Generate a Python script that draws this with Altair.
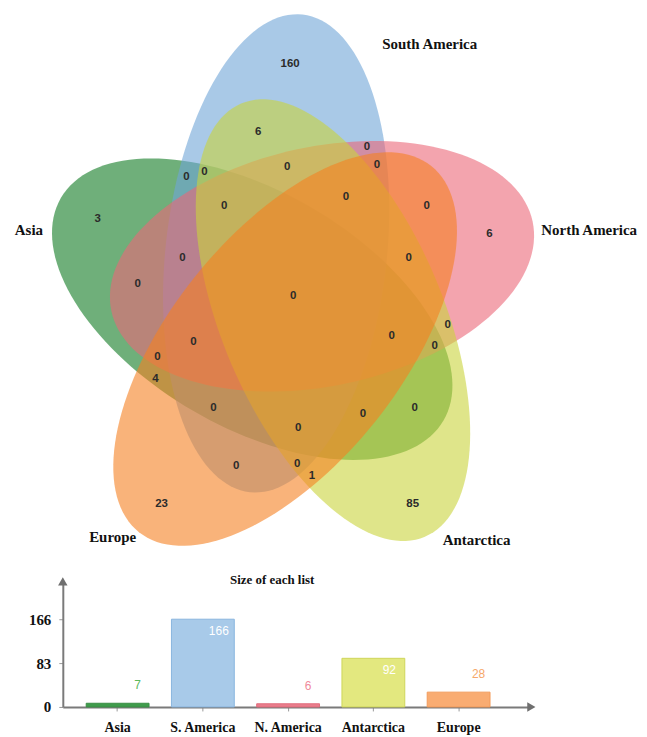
import numpy as np
import pandas as pd
import altair as alt

# ---------------- data ----------------
set_names = ["Asia", "South America", "North America", "Antarctica", "Europe"]
short_names = ["Asia", "S. America", "N. America", "Antarctica", "Europe"]
list_sizes = [7, 166, 6, 92, 28]

# counts of the 31 Venn regions
region_counts = [160, 6, 0, 0, 0, 0, 0, 0, 0, 0, 6, 3, 0, 0, 0, 0,
                 0, 0, 0, 0, 0, 4, 0, 0, 0, 0, 0, 0, 1, 23, 85]

# ---------------- layout (pixels, y down) ----------------
LEFT = 62              # x of the bar chart's y axis (plot areas are aligned there)
VW, VH = 647, 565
region_x = [290, 258, 186, 204, 287, 367, 377, 346, 224, 427, 490, 97, 182, 137, 409, 293,
            392, 448, 435, 193, 157, 155, 213, 298, 363, 415, 236, 297, 312, 161, 413]
region_y = [62, 130, 175, 170, 165, 145, 163, 195, 205, 205, 233, 218, 257, 283, 257, 295,
            335, 324, 345, 341, 356, 378, 407, 427, 413, 407, 465, 463, 475, 503, 503]

# ellipse geometry: centre, semi-axes, direction of the major axis (degrees, clockwise)
ell_center = {"Asia": (252, 308), "South America": (276, 252), "North America": (322, 265),
              "Antarctica": (333, 319), "Europe": (285, 348)}
ell_a = {"Asia": 222, "South America": 241, "North America": 216,
         "Antarctica": 236, "Europe": 235}
ell_b = {"Asia": 118, "South America": 111, "North America": 120,
         "Antarctica": 111, "Europe": 116}
ell_angle = {"Asia": 210.2, "South America": 276.3, "North America": 348.0,
             "Antarctica": 67.0, "Europe": 128.6}

set_fill = {"Asia": "#0f7a22", "South America": "#70a5d7", "North America": "#eb6778",
            "Antarctica": "#cad43c", "Europe": "#f58021"}
draw_order = ["Asia", "South America", "North America", "Antarctica", "Europe"]

set_label_x = [28, 430, 590, 477, 112]
set_label_y = [229, 42, 229, 540, 537]

bar_fill = ["#3f9c4c", "#a8cae9", "#ea7d8c", "#e3e87f", "#f9ac72"]
bar_stroke = ["#3a8f46", "#8ab6df", "#e06c7c", "#cfd65a", "#f29b5a"]
out_label_color = ["#5cb85c", "#ffffff", "#f08a9a", "#ffffff", "#f6a86a"]

# ---------------- Venn panel ----------------
X = alt.X("x:Q", scale=alt.Scale(domain=[LEFT, VW], nice=False, zero=False), axis=None)
Y = alt.Y("y:Q", scale=alt.Scale(domain=[0, VH], nice=False, zero=False, reverse=True), axis=None)


def ellipse_path(ratio, n=144):
    t = np.linspace(0, 2 * np.pi, n, endpoint=False)
    px = np.cos(t)
    py = ratio * np.sin(t)
    pts = " L ".join(f"{a:.4f} {b:.4f}" for a, b in zip(px, py))
    return "M " + pts + " Z"


layers = []
anchor = pd.DataFrame({"x": [0, VW], "y": [0, VH]})
layers.append(alt.Chart(anchor).mark_point(opacity=0, size=1).encode(x=X, y=Y))

for name in draw_order:
    cx, cy = ell_center[name]
    a, b = ell_a[name], ell_b[name]
    df = pd.DataFrame({"x": [cx], "y": [cy]})
    layers.append(
        alt.Chart(df).mark_point(shape=ellipse_path(b / a), size=float((2 * a) ** 2),
                                 angle=ell_angle[name], filled=True,
                                 color=set_fill[name], opacity=0.6,
                                 strokeWidth=0).encode(x=X, y=Y)
    )

regions = pd.DataFrame({"x": region_x, "y": region_y,
                        "count": [str(c) for c in region_counts]})
layers.append(alt.Chart(regions).mark_text(font="Liberation Sans", fontWeight="bold",
                                           fontSize=11.5, color="#2b2b2b")
              .encode(x=X, y=Y, text="count:N"))

labels = pd.DataFrame({"x": set_label_x, "y": set_label_y, "name": set_names})
layers.append(alt.Chart(labels).mark_text(font="Liberation Serif", fontWeight="bold",
                                          fontSize=15, color="#111111")
              .encode(x=X, y=Y, text="name:N"))

venn = alt.layer(*layers).properties(width=VW - LEFT, height=VH)

# ---------------- bar panel ----------------
BW, BH = 468, 123
bars_df = pd.DataFrame({"list": short_names, "size": list_sizes,
                        "fill": bar_fill, "stroke": bar_stroke, "lab": out_label_color})

xb = alt.X("list:N", sort=short_names,
           scale=alt.Scale(paddingInner=0.263, paddingOuter=0.368, align=0.373),
           axis=alt.Axis(title=None, labelAngle=0, labelFont="Liberation Serif",
                         labelFontWeight="bold", labelFontSize=14, labelColor="#111111",
                         labelPadding=10, tickSize=4, tickColor="#999999",
                         domainColor="#7a7a7a", domainWidth=2))
yb = alt.Y("size:Q", scale=alt.Scale(domain=[0, 232], nice=False),
           axis=alt.Axis(values=[0, 83, 166], title=None, grid=False,
                         labelFont="Liberation Serif", labelFontWeight="bold",
                         labelFontSize=15, labelColor="#111111", labelPadding=8,
                         tickSize=4, tickColor="#999999",
                         domainColor="#7a7a7a", domainWidth=2))

base = alt.Chart(bars_df)
bars = base.mark_bar(strokeWidth=1).encode(
    x=xb, y=yb,
    fill=alt.Fill("fill:N", scale=None),
    stroke=alt.Stroke("stroke:N", scale=None),
)
inside = base.transform_filter("datum.size > 50").mark_text(
    font="Liberation Sans", fontSize=12, dx=16, dy=12, color="white"
).encode(x=xb, y=yb, text="size:Q")
outside = base.transform_filter("datum.size <= 50").mark_text(
    font="Liberation Sans", fontSize=12, dx=20, dy=-18
).encode(x=xb, y=yb, text="size:Q", color=alt.Color("lab:N", scale=None))

dummy = pd.DataFrame({"d": [0]})
arrow_x = alt.Chart(dummy).mark_point(shape="triangle-right", size=90, filled=True,
                                      color="#6f6f6f", opacity=1).encode(
    x=alt.value(BW + 2), y=alt.value(BH))
arrow_y = alt.Chart(dummy).mark_point(shape="triangle-up", size=90, filled=True,
                                      color="#6f6f6f", opacity=1).encode(
    x=alt.value(0), y=alt.value(-3))
title = alt.Chart(dummy).mark_text(text="Size of each list", font="Liberation Serif",
                                   fontWeight="bold", fontSize=13, color="#111111").encode(
    x=alt.value(210), y=alt.value(-4))
bar_anchor = alt.Chart(dummy).mark_point(opacity=0, size=1).encode(
    x=alt.value(-LEFT), y=alt.value(-17))

barpanel = alt.layer(bar_anchor, bars, inside, outside, arrow_x, arrow_y, title).properties(
    width=BW, height=BH)

chart = alt.vconcat(venn, barpanel, spacing=0, padding=0).configure_view(
    stroke=None).configure_concat(spacing=0)

chart.save("out.html", embed_options={"renderer": "svg", "actions": False})
